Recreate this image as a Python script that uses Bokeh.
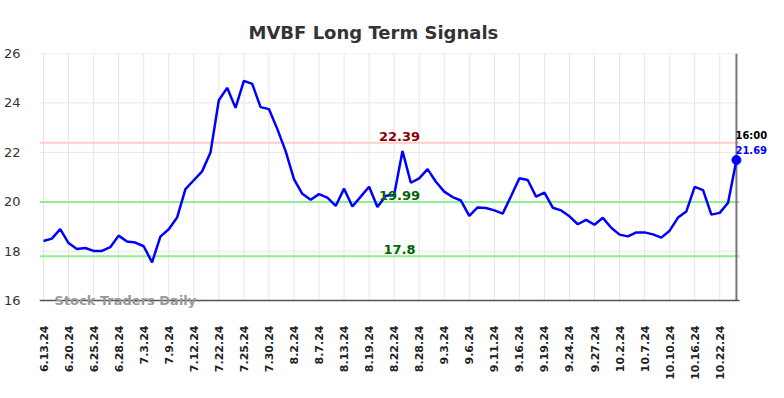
from bokeh.plotting import figure
from bokeh.models import FixedTicker, Label, ColumnDataSource, Title
from bokeh.embed import file_html
from bokeh.resources import INLINE
import math

tick_labels = ["6.13.24", "6.20.24", "6.25.24", "6.28.24", "7.3.24", "7.9.24", "7.12.24",
               "7.22.24", "7.25.24", "7.30.24", "8.2.24", "8.7.24", "8.13.24", "8.19.24",
               "8.22.24", "8.28.24", "9.3.24", "9.6.24", "9.11.24", "9.16.24", "9.19.24",
               "9.24.24", "9.27.24", "10.2.24", "10.7.24", "10.10.24", "10.16.24", "10.22.24"]

prices = [18.41, 18.51, 18.89, 18.33, 18.09, 18.13, 18.01, 18.01, 18.16, 18.63,
          18.39, 18.35, 18.20, 17.55, 18.59, 18.89, 19.36, 20.51, 20.87, 21.23,
          21.99, 24.11, 24.61, 23.80, 24.89, 24.77, 23.83, 23.75, 22.95, 22.05,
          20.92, 20.32, 20.08, 20.31, 20.17, 19.83, 20.53, 19.81, 20.21, 20.61,
          19.79, 20.24, 20.27, 22.05, 20.77, 20.95, 21.32, 20.81, 20.41, 20.19,
          20.05, 19.43, 19.77, 19.75, 19.65, 19.52, 20.22, 20.95, 20.88, 20.21,
          20.37, 19.76, 19.65, 19.41, 19.09, 19.27, 19.07, 19.35, 18.95, 18.67,
          18.60, 18.76, 18.76, 18.68, 18.55, 18.83, 19.36, 19.61, 20.60, 20.47,
          19.48, 19.55, 19.96, 21.69]

y_ticks = [16, 18, 20, 22, 24, 26]
resistance = 22.39
mid_support = 19.99
support = 17.8
last_time = "16:00"

xs = list(range(len(prices)))
tick_every = 3
tick_pos = [i * tick_every for i in range(len(tick_labels))]

FONT = "DejaVu Sans"

# plot-area extent (in data units) for grid/axis lines
X_LEFT = -0.48
X_RIGHT = len(prices) - 1 + 0.36
Y_MIN, Y_MAX = y_ticks[0], y_ticks[-1]

p = figure(width=768, height=382, output_backend="svg", toolbar_location=None,
           x_range=(X_LEFT, 86.84), y_range=(Y_MIN - 0.36, Y_MAX),
           min_border_left=39, min_border_right=0, min_border_top=53, min_border_bottom=70)
p.outline_line_color = None
p.background_fill_color = "white"
p.xgrid.visible = False
p.ygrid.visible = False

title = Title(text="MVBF Long Term Signals", align="left", offset=209, text_font=FONT,
              text_font_size="18px", text_font_style="bold", text_color="#333333", standoff=22)
p.add_layout(title, "above")

# axes
p.xaxis.ticker = FixedTicker(ticks=tick_pos)
p.xaxis.major_label_overrides = {t: lab for t, lab in zip(tick_pos, tick_labels)}
p.xaxis.major_label_orientation = math.pi / 2
p.xaxis.major_label_text_font = FONT
p.xaxis.major_label_text_font_size = "11px"
p.xaxis.major_label_text_font_style = "bold"
p.xaxis.major_label_text_color = "#222222"
p.xaxis.major_tick_line_color = None
p.xaxis.minor_tick_line_color = None
p.xaxis.major_label_standoff = 10
p.xaxis.axis_line_color = None

p.yaxis.ticker = FixedTicker(ticks=y_ticks)
p.yaxis.major_label_text_font = FONT
p.yaxis.major_label_text_font_size = "13px"
p.yaxis.major_label_text_color = "#333333"
p.yaxis.major_tick_line_color = None
p.yaxis.minor_tick_line_color = None
p.yaxis.axis_line_color = None
p.yaxis.major_label_standoff = 13

GRID = "#e6e6e6"
# vertical grid lines
p.segment(x0=tick_pos, y0=[Y_MIN] * len(tick_pos), x1=tick_pos, y1=[Y_MAX] * len(tick_pos),
          line_color=GRID, line_width=1)
# horizontal grid lines
p.segment(x0=[X_LEFT] * len(y_ticks), y0=y_ticks, x1=[X_RIGHT] * len(y_ticks), y1=y_ticks,
          line_color=GRID, line_width=1)

# signal lines
levels = [resistance, mid_support, support]
p.segment(x0=[X_LEFT] * 3, y0=levels, x1=[X_RIGHT] * 3, y1=levels,
          line_color=["#ffcccc", "#90ee90", "#90ee90"], line_width=2)

# last-point marker line
p.segment(x0=[xs[-1]], y0=[Y_MIN], x1=[xs[-1]], y1=[Y_MAX], line_color="#777777", line_width=2)

src = ColumnDataSource(dict(x=xs, y=prices))
p.line("x", "y", source=src, line_color="#0000ff", line_width=2.5)
p.scatter([xs[-1]], [prices[-1]], size=9, color="#0000ff")

mid_x = 42.64
for val, col in [(resistance, "#8b0000"), (mid_support, "#006400"), (support, "#006400")]:
    p.add_layout(Label(x=mid_x, y=val, text=f"{val:g}", text_align="center", text_baseline="bottom",
                       y_offset=2, text_font=FONT, text_font_size="13px", text_font_style="bold",
                       text_color=col))

p.add_layout(Label(x=xs[-1], y=prices[-1], text=f"{prices[-1]:.2f}", text_align="left",
                   text_baseline="bottom", x_offset=-1, y_offset=6, text_font=FONT,
                   text_font_size="10px", text_font_style="bold", text_color="#0000ff"))
p.add_layout(Label(x=xs[-1], y=prices[-1], text=last_time, text_align="left",
                   text_baseline="bottom", x_offset=-1, y_offset=19, text_font=FONT,
                   text_font_size="10px", text_font_style="bold", text_color="#000000"))

p.add_layout(Label(x=1.32, y=Y_MIN, text="Stock Traders Daily", text_align="left",
                   text_baseline="middle", text_font=FONT, text_font_size="13px",
                   text_font_style="bold", text_color="#999999", y_offset=0))

# bottom axis line
p.segment(x0=[X_LEFT], y0=[Y_MIN], x1=[X_RIGHT], y1=[Y_MIN], line_color="#555555", line_width=1.5)

open("out.html", "w").write(file_html(p, INLINE))
